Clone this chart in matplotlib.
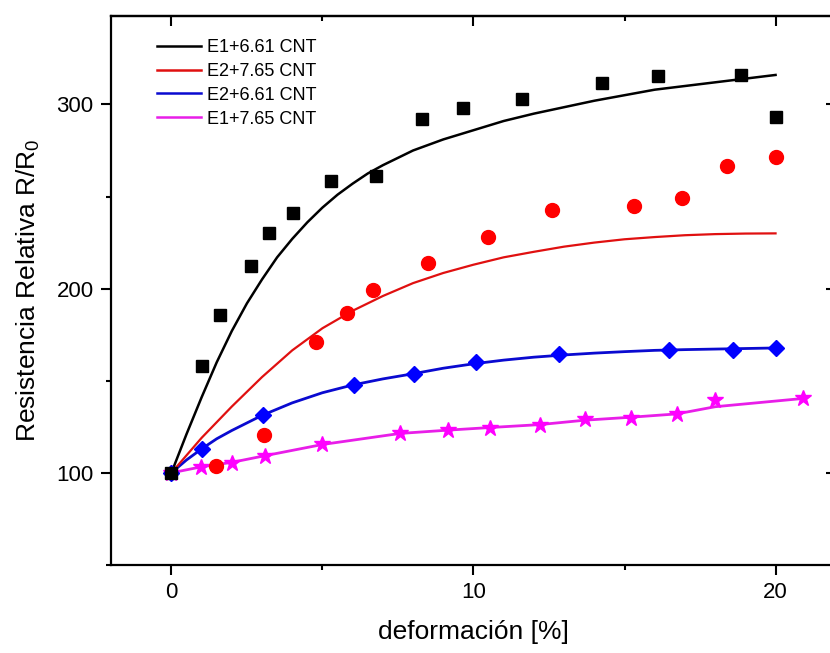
import numpy as np
import matplotlib
matplotlib.use("Agg")
import matplotlib.pyplot as plt
from matplotlib.lines import Line2D
from matplotlib.ticker import MultipleLocator

plt.rcParams['font.family'] = ['Liberation Sans', 'DejaVu Sans']
plt.rcParams['mathtext.default'] = 'regular'

# medidas: deformación [%] vs R/R0
x_e1_661 = [0, 1.02, 1.6, 2.63, 3.22, 4.02, 5.28, 6.77, 8.31, 9.66, 11.59, 14.24, 16.1, 18.85, 20.0]
y_e1_661 = [100, 158.2, 185.7, 212.5, 230.0, 240.9, 258.5, 261.2, 292.2, 298.0, 302.9, 311.6, 315.2, 315.8, 293.1]

x_e2_765 = [1.47, 3.07, 4.78, 5.8, 6.66, 8.5, 10.49, 12.59, 15.31, 16.91, 18.38, 20.0]
y_e2_765 = [103.8, 120.5, 171.2, 186.6, 199.3, 213.8, 228.3, 242.8, 244.6, 249.1, 266.8, 271.2]

x_e2_661 = [0, 1.02, 3.02, 6.05, 8.03, 10.08, 12.84, 16.48, 18.6, 20.0]
y_e2_661 = [100, 113.2, 131.4, 147.7, 153.4, 160.0, 164.3, 166.7, 166.7, 167.6]

x_e1_765 = [0, 0.97, 1.99, 3.09, 5.0, 7.57, 9.16, 10.54, 12.2, 13.69, 15.21, 16.73, 17.99, 20.92]
y_e1_765 = [100, 103.3, 105.6, 109.2, 115.4, 121.4, 123.2, 124.5, 125.9, 129.0, 130.0, 131.9, 139.5, 140.4]

# curvas de ajuste
fx_e1_661 = [0, 0.5, 1, 1.5, 2, 2.5, 3, 3.5, 4, 4.5, 5, 5.5, 6, 6.5, 7, 7.5, 8, 9, 10, 11, 12, 13, 14, 15, 16, 17, 18, 19, 20]
fy_e1_661 = [100, 121, 141, 160, 177, 192, 205, 217, 227, 236, 244, 251, 257, 262.5, 267, 271, 275, 281, 286, 291, 295, 298.5, 302, 305, 308, 310, 312, 314, 316]

fx_e2_765 = [0, 1, 2, 3, 4, 5, 6, 7, 8, 9, 10, 11, 12, 13, 14, 15, 16, 17, 18, 19, 20]
fy_e2_765 = [100, 119, 136, 152, 166.5, 178.5, 188, 196, 203, 208.5, 213, 217, 220, 222.8, 225, 226.8, 228, 229, 229.6, 229.9, 230]

fx_e2_661 = [0, 0.5, 1, 1.5, 2, 3, 4, 5, 6, 7, 8, 9, 10, 11, 12, 13, 14, 15, 16, 17, 18, 19, 20]
fy_e2_661 = [100, 107, 113, 118.5, 123, 131.2, 138, 143.5, 147.7, 151, 153.8, 156.8, 159.2, 161.2, 162.8, 164, 165, 165.8, 166.5, 166.9, 167.2, 167.5, 167.8]

fx_e1_765 = [0, 1, 2, 3, 5, 7.57, 9.16, 10.54, 12.2, 13.69, 15.21, 16.73, 18, 20.92]
fy_e1_765 = [100, 103.3, 105.7, 109, 115.4, 121.4, 123.2, 124.6, 126.2, 128.6, 130.2, 132, 135.9, 140.4]

labels = ['E1+6.61 CNT', 'E2+7.65 CNT', 'E2+6.61 CNT', 'E1+7.65 CNT']

fig = plt.figure(figsize=(8.3, 6.53), dpi=100)
ax = fig.add_axes([0.1337, 0.1348, 0.8735, 0.8407])

ax.plot(fx_e1_765, fy_e1_765, color='#e81ee8', lw=2.0, zorder=2)
ax.plot(x_e1_765, y_e1_765, ls='none', marker='*', ms=12, color='#ff00ff', zorder=3)

ax.plot(fx_e2_661, fy_e2_661, color='#0a0ad0', lw=2.0, zorder=2)
ax.plot(x_e2_661, y_e2_661, ls='none', marker='D', ms=8.5, color='#0000ff', zorder=3)

ax.plot(fx_e2_765, fy_e2_765, color='#e01010', lw=1.6, zorder=2)
ax.plot(x_e2_765, y_e2_765, ls='none', marker='o', ms=10, color='#ff0000', zorder=3)

ax.plot(fx_e1_661, fy_e1_661, color='black', lw=1.8, zorder=2)
ax.plot(x_e1_661, y_e1_661, ls='none', marker='s', ms=9, color='black', zorder=4)

ax.set_xlim(-2, 22)
ax.set_ylim(50, 348)

ax.xaxis.set_major_locator(MultipleLocator(10))
ax.xaxis.set_minor_locator(MultipleLocator(5))
ax.yaxis.set_major_locator(MultipleLocator(100))
ax.yaxis.set_minor_locator(MultipleLocator(50))

for s in ax.spines.values():
    s.set_linewidth(1.6)
ax.tick_params(which='major', direction='out', length=7.5, width=1.5, labelsize=16, pad=5)
ax.tick_params(which='minor', direction='out', length=3.8, width=1.5)

# ticks internos arriba y a la derecha
top = ax.secondary_xaxis('top')
top.xaxis.set_major_locator(MultipleLocator(10))
top.xaxis.set_minor_locator(MultipleLocator(5))
top.tick_params(which='major', direction='in', length=7.5, width=1.5, labeltop=False)
top.tick_params(which='minor', direction='in', length=3.8, width=1.5)
top.spines['top'].set_linewidth(1.6)

right = ax.secondary_yaxis('right')
right.yaxis.set_major_locator(MultipleLocator(100))
right.yaxis.set_minor_locator(MultipleLocator(50))
right.tick_params(which='major', direction='in', length=7.5, width=1.5, labelright=False)
right.tick_params(which='minor', direction='in', length=3.8, width=1.5)
right.spines['right'].set_linewidth(1.6)

ax.set_xlabel('deformación [%]', fontsize=19)
ax.set_ylabel('Resistencia Relativa R/R$_\\mathregular{0}$', fontsize=19)
ax.xaxis.set_label_coords(0.5, -0.1)
ax.yaxis.set_label_coords(-0.095, 0.5)

handles = [Line2D([], [], color=c, lw=lw) for c, lw in
           [('black', 1.8), ('#e01010', 1.8), ('#0a0ad0', 1.8), ('#e81ee8', 1.8)]]
ax.legend(handles, labels, loc='upper left', bbox_to_anchor=(0.063, 0.958),
          frameon=False, fontsize=13, handlelength=2.45, handletextpad=0.35,
          labelspacing=0.38, borderpad=0, borderaxespad=0)

fig.savefig('out.png', dpi=100)
